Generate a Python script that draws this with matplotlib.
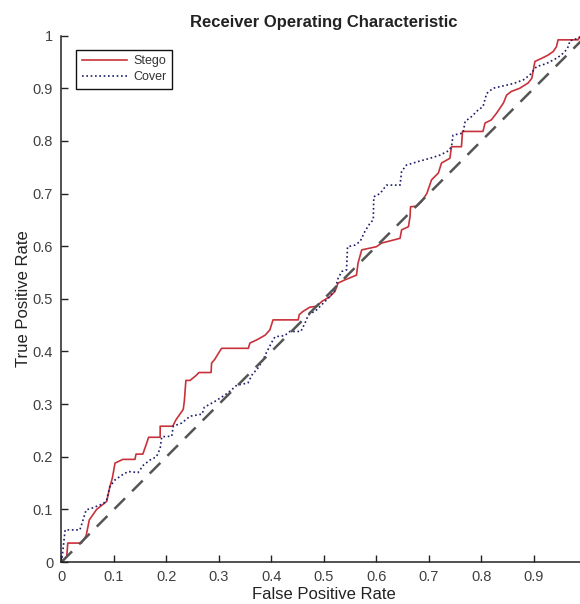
import matplotlib
matplotlib.use("Agg")
import matplotlib.pyplot as plt

plt.rcParams['font.family'] = ['Liberation Sans', 'DejaVu Sans']

# ROC points (false positive rate, true positive rate)
stego_fpr = [0, 0.01, 0.012, 0.038, 0.047, 0.053, 0.067, 0.086, 0.092, 0.097, 0.102, 0.117, 0.14,
             0.142, 0.155, 0.162, 0.166, 0.188, 0.188, 0.212, 0.218, 0.225, 0.232, 0.234, 0.237,
             0.245, 0.256, 0.262, 0.285, 0.286, 0.292, 0.3, 0.305, 0.356, 0.359, 0.372, 0.388,
             0.397, 0.403, 0.451, 0.453, 0.46, 0.473, 0.486, 0.496, 0.511, 0.521, 0.527, 0.54,
             0.562, 0.565, 0.572, 0.6, 0.61, 0.622, 0.645, 0.648, 0.661, 0.664, 0.665, 0.677,
             0.686, 0.696, 0.705, 0.718, 0.724, 0.74, 0.743, 0.762, 0.764, 0.803, 0.807, 0.819,
             0.829, 0.842, 0.848, 0.857, 0.873, 0.889, 0.896, 0.902, 0.915, 0.927, 0.937, 0.943,
             0.946, 0.984, 0.988, 1.0]
stego_tpr = [0, 0.01, 0.036, 0.036, 0.05, 0.08, 0.1, 0.115, 0.142, 0.16, 0.188, 0.195, 0.195,
             0.205, 0.205, 0.225, 0.237, 0.237, 0.258, 0.258, 0.27, 0.28, 0.29, 0.305, 0.345,
             0.345, 0.354, 0.36, 0.36, 0.378, 0.385, 0.398, 0.406, 0.406, 0.416, 0.422, 0.431,
             0.441, 0.46, 0.46, 0.47, 0.476, 0.484, 0.486, 0.495, 0.504, 0.514, 0.53, 0.536,
             0.545, 0.568, 0.593, 0.599, 0.606, 0.609, 0.615, 0.631, 0.637, 0.656, 0.675, 0.676,
             0.685, 0.70, 0.726, 0.739, 0.758, 0.767, 0.789, 0.789, 0.818, 0.818, 0.834, 0.84,
             0.853, 0.872, 0.887, 0.894, 0.90, 0.91, 0.919, 0.951, 0.957, 0.963, 0.97, 0.979,
             0.992, 0.992, 1.0, 1.0]

cover_fpr = [0, 0.002, 0.007, 0.035, 0.038, 0.047, 0.057, 0.08, 0.086, 0.092, 0.102, 0.115, 0.127,
             0.146, 0.156, 0.169, 0.181, 0.188, 0.191, 0.21, 0.213, 0.229, 0.245, 0.268, 0.272,
             0.292, 0.311, 0.324, 0.334, 0.355, 0.365, 0.372, 0.384, 0.39, 0.403, 0.407, 0.425,
             0.435, 0.456, 0.464, 0.47, 0.486, 0.499, 0.511, 0.521, 0.527, 0.534, 0.543, 0.545,
             0.559, 0.569, 0.578, 0.588, 0.594, 0.595, 0.607, 0.619, 0.645, 0.648, 0.657, 0.68,
             0.702, 0.721, 0.737, 0.743, 0.746, 0.765, 0.769, 0.781, 0.794, 0.803, 0.81, 0.822,
             0.835, 0.861, 0.88, 0.892, 0.905, 0.924, 0.943, 0.952, 0.962, 0.967, 0.968, 0.984, 1.0]
cover_tpr = [0, 0.016, 0.061, 0.061, 0.07, 0.099, 0.102, 0.111, 0.118, 0.143, 0.156, 0.165, 0.172,
             0.17, 0.184, 0.194, 0.20, 0.216, 0.238, 0.239, 0.258, 0.264, 0.277, 0.281, 0.294,
             0.305, 0.317, 0.327, 0.336, 0.34, 0.359, 0.365, 0.384, 0.397, 0.422, 0.428, 0.43,
             0.438, 0.438, 0.454, 0.469, 0.479, 0.492, 0.504, 0.517, 0.539, 0.552, 0.555, 0.599,
             0.602, 0.609, 0.628, 0.644, 0.65, 0.694, 0.70, 0.716, 0.716, 0.742, 0.754, 0.761,
             0.767, 0.773, 0.781, 0.789, 0.811, 0.815, 0.837, 0.846, 0.859, 0.865, 0.89, 0.90,
             0.903, 0.909, 0.916, 0.925, 0.941, 0.947, 0.957, 0.963, 0.973, 0.982, 0.99, 0.995, 1.0]

chance = [0, 1]
ticks = [0, 0.1, 0.2, 0.3, 0.4, 0.5, 0.6, 0.7, 0.8, 0.9, 1]
# the "1" on the x axis falls outside the cropped original, so it is left blank
xtick_labels = ['0', '0.1', '0.2', '0.3', '0.4', '0.5', '0.6', '0.7', '0.8', '0.9', '']
ytick_labels = ['0', '0.1', '0.2', '0.3', '0.4', '0.5', '0.6', '0.7', '0.8', '0.9', '1']

fig = plt.figure(figsize=(5.8, 6.04), dpi=100)
# right edge of the axes runs past the figure, as in the cropped original
ax = fig.add_axes([0.106, 0.0695, 0.905, 0.8715])

ax.plot(stego_fpr, stego_tpr, color='#c8323a', lw=1.2, label='Stego')
ax.plot(cover_fpr, cover_tpr, color='#1c1c6a', lw=1.2, ls=(0, (1, 1.6)), label='Cover')
ax.plot(chance, chance, color='#555555', lw=1.8, ls=(0, (6, 4)))

ax.set_xlim(0, 1)
ax.set_ylim(0, 1)
ax.set_xticks(ticks)
ax.set_xticklabels(xtick_labels)
ax.set_yticks(ticks)
ax.set_yticklabels(ytick_labels)
ax.tick_params(direction='in', length=5, width=1, labelsize=10.5, colors='#222222',
               labelcolor='#404040', pad=6)
ax.spines['top'].set_visible(False)
ax.spines['right'].set_visible(False)
for s in ['left', 'bottom']:
    ax.spines[s].set_color('#222222')
    ax.spines[s].set_linewidth(1.1)

ax.set_title('Receiver Operating Characteristic', fontsize=12, fontweight='bold',
             color='#222222', pad=6)
ax.set_xlabel('False Positive Rate', fontsize=12, color='#222222', labelpad=2)
ax.set_ylabel('True Positive Rate', fontsize=12, color='#222222', labelpad=1.5)

leg = ax.legend(loc='upper left', bbox_to_anchor=(0.028, 0.973), borderaxespad=0,
                fontsize=9, fancybox=False, edgecolor='#111111', framealpha=1,
                handlelength=3.6, handletextpad=0.5, borderpad=0.45, labelspacing=0.3)
leg.get_frame().set_linewidth(1.0)
for t in leg.get_texts():
    t.set_color('#333333')

fig.savefig('out.png', dpi=100)
